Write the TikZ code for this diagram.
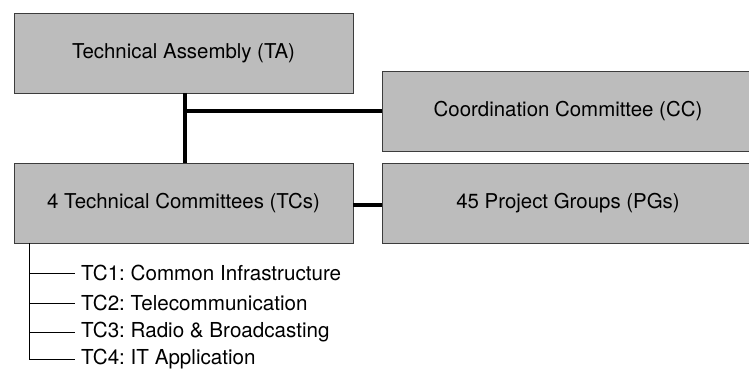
\documentclass[tikz,border=0pt]{standalone}
\usepackage{fontspec}
\setmainfont{TeX Gyre Heros}
\frenchspacing
\definecolor{boxfill}{RGB}{188,188,188}
\definecolor{boxline}{RGB}{60,60,60}
\begin{document}
\begin{tikzpicture}[x=1bp,y=-1bp,
  orgbox/.style={draw=boxline,fill=boxfill,line width=1bp,inner sep=0pt},
  boxlabel/.style={font=\fontsize{20.5}{24}\selectfont,anchor=center,inner sep=0pt},
  link/.style={line width=4bp,black},
  branch/.style={line width=0.8bp,black},
  item/.style={font=\fontsize{20.7}{24}\selectfont,anchor=west,inner sep=0pt}]
\useasboundingbox (0,0) rectangle (749,374);
\clip (0,0) rectangle (749,374);

% boxes
\draw[orgbox] (14,13) rectangle (353,93);
\node[boxlabel] (ta) at (183.5,53) {Technical Assembly (TA)};
\coordinate (taS) at (184.7,93);

\draw[orgbox] (382,71) rectangle (760,151);
\node[boxlabel] (cc) at (568,111) {Coordination Committee (CC)};
\coordinate (ccW) at (382,111);

\draw[orgbox] (14,163) rectangle (353,243);
\node[boxlabel] (tc) at (183.5,203) {4 Technical Committees (TCs)};
\coordinate (tcN) at (184.7,163);
\coordinate (tcE) at (353,205);
\coordinate (tcS) at (29,243);

\draw[orgbox] (382,163) rectangle (760,243);
\node[boxlabel] (pg) at (568,203) {45 Project Groups (PGs)};
\coordinate (pgW) at (382,205);

% thick connectors
\draw[link] (taS) -- (tcN);
\draw[link] (184.7,111) -- (ccW);
\draw[link] (tcE) -- (pgW);

% list of technical committees
\node[item] (tc1) at (81,273) {TC1: Common Infrastructure};
\node[item] (tc2) at (81,303) {TC2: Telecommunication};
\node[item] (tc3) at (81,332) {TC3: Radio \& Broadcasting};
\node[item] (tc4) at (81,359) {TC4: IT Application};

\draw[branch] (tcS) |- (75,359);
\foreach \y in {273,303,332}
  \draw[branch] (29,\y) -- (75,\y);
\end{tikzpicture}
\end{document}
